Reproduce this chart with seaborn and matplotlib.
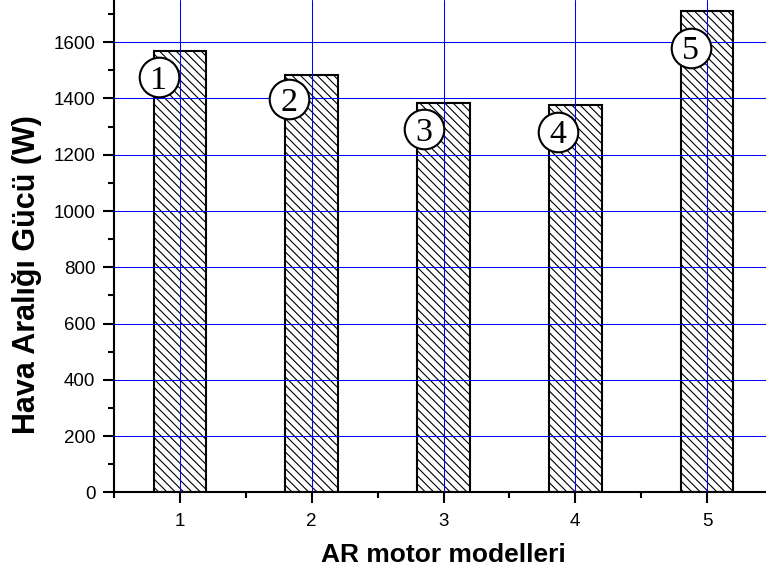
import numpy as np
import pandas as pd
import matplotlib
matplotlib.use("Agg")
import matplotlib.pyplot as plt
import seaborn as sns
from matplotlib.ticker import MultipleLocator

# values
models = [1, 2, 3, 4, 5]
power = [1567, 1484, 1384, 1378, 1712]
labels = ["1", "2", "3", "4", "5"]
# where the numbered circles sit, in pixels right of the bar's left edge / below its top
circle_dx = [5, 4, 7, 9, 10]
circle_dy = [26, 24, 26, 27, 37]

sns.set_style("ticks")
plt.rcParams["font.family"] = ["Liberation Sans", "DejaVu Sans"]
plt.rcParams["hatch.linewidth"] = 0.8
plt.rcParams["text.color"] = "black"
plt.rcParams["axes.labelcolor"] = "black"
plt.rcParams["xtick.color"] = "black"
plt.rcParams["ytick.color"] = "black"

df = pd.DataFrame({"model": models, "power": power})

fig = plt.figure(figsize=(7.66, 5.73), dpi=100)
ax = fig.add_axes([114 / 766, 80.6 / 573, 659 / 766, 492.4 / 573])

sns.barplot(data=df, x="model", y="power", native_scale=True, width=0.4,
            color="white", saturation=1, edgecolor="black", linewidth=1.5, ax=ax)
for p in ax.patches:
    p.set_hatch("\\\\\\\\")
    p.set_facecolor("white")
    p.set_edgecolor("black")

ax.set_xlim(0.5, 5.5)
ax.set_ylim(0, 1750)
ax.set_xticks(models)
ax.set_xticklabels(labels)
ax.xaxis.set_minor_locator(MultipleLocator(0.5))
ax.yaxis.set_minor_locator(MultipleLocator(100))
ax.set_yticks(np.arange(0, 1601, 200))

ax.set_axisbelow(False)
ax.grid(True, which="major", color="blue", linewidth=0.75)
ax.tick_params(which="major", direction="out", length=8, width=1.5, labelsize=13.5, pad=5.5)
ax.tick_params(which="minor", direction="out", length=4, width=1.5)
ax.tick_params(axis="x", which="major", pad=7)

for side in ["top", "right"]:
    ax.spines[side].set_visible(False)
for side in ["left", "bottom"]:
    ax.spines[side].set_linewidth(1.5)
    ax.spines[side].set_color("black")

ax.set_xlabel("AR motor modelleri", fontsize=19, fontweight="bold", va="center")
ax.xaxis.set_label_coords(0.5, -0.127)
ax.set_ylabel("Hava Aralığı Gücü (W)", fontsize=22, fontweight="bold", va="center")
ax.yaxis.set_label_coords(-0.132, 0.4415)

# numbered circles near the top-left corner of each bar
inv = ax.transData.inverted()
for m, v, t, dx, dy in zip(models, power, labels, circle_dx, circle_dy):
    px, py = ax.transData.transform((m - 0.2, v))
    cx, cy = inv.transform((px + dx, py - dy))
    ax.scatter([cx], [cy], s=28.5 ** 2, facecolor="white", edgecolor="black",
               linewidth=1.5, zorder=5, clip_on=False)
    ax.text(cx, cy, t, ha="center", va="center_baseline", fontsize=24.5,
            family=["Liberation Serif", "DejaVu Serif"], zorder=6)

fig.savefig("out.png", dpi=100)
